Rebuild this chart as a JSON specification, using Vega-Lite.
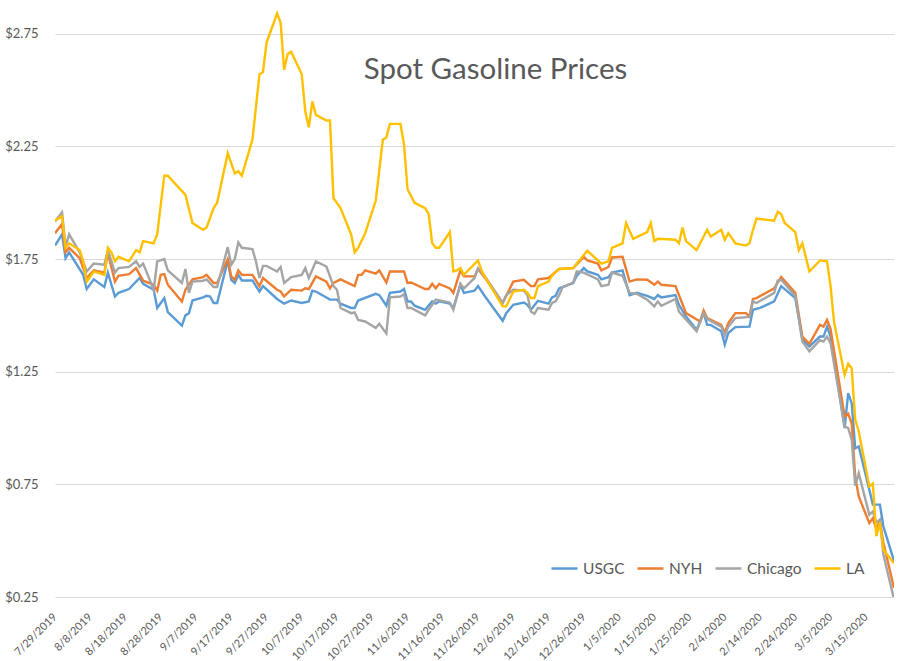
{
  "$schema": "https://vega.github.io/schema/vega-lite/v6.json",
  "autosize": "none",
  "width": 839,
  "height": 597,
  "padding": {"left": 55, "top": 0, "right": 17, "bottom": 64},
  "background": "white",
  "title": {"text": "Spot Gasoline Prices", "font": "Lato", "fontSize": 29.5, "fontWeight": "normal", "color": "#595959", "anchor": "middle", "offset": 0, "baseline": "alphabetic", "dx": 21, "dy": 108},
  "config": {
    "view": {"stroke": null},
    "axis": {"labelFont": "Lato", "labelColor": "#595959", "gridColor": "#D9D9D9", "gridWidth": 1, "ticks": false, "domain": false, "title": null},
    "legend": {"labelFont": "Lato"}
  },
  "data": {"values": [
    {"date":"2019-07-29","series":"USGC","price":1.81},{"date":"2019-07-31","series":"USGC","price":1.86},{"date":"2019-08-01","series":"USGC","price":1.754},{"date":"2019-08-02","series":"USGC","price":1.78},{"date":"2019-08-06","series":"USGC","price":1.68},{"date":"2019-08-07","series":"USGC","price":1.617},{"date":"2019-08-09","series":"USGC","price":1.66},{"date":"2019-08-12","series":"USGC","price":1.626},{"date":"2019-08-13","series":"USGC","price":1.69},{"date":"2019-08-15","series":"USGC","price":1.584},{"date":"2019-08-16","series":"USGC","price":1.6},{"date":"2019-08-19","series":"USGC","price":1.617},{"date":"2019-08-22","series":"USGC","price":1.666},{"date":"2019-08-23","series":"USGC","price":1.64},{"date":"2019-08-26","series":"USGC","price":1.614},{"date":"2019-08-27","series":"USGC","price":1.533},{"date":"2019-08-29","series":"USGC","price":1.577},{"date":"2019-08-30","series":"USGC","price":1.515},{"date":"2019-09-03","series":"USGC","price":1.455},{"date":"2019-09-04","series":"USGC","price":1.5},{"date":"2019-09-05","series":"USGC","price":1.51},{"date":"2019-09-06","series":"USGC","price":1.566},{"date":"2019-09-09","series":"USGC","price":1.58},{"date":"2019-09-10","series":"USGC","price":1.587},{"date":"2019-09-11","series":"USGC","price":1.584},{"date":"2019-09-12","series":"USGC","price":1.555},{"date":"2019-09-13","series":"USGC","price":1.555},{"date":"2019-09-16","series":"USGC","price":1.744},{"date":"2019-09-17","series":"USGC","price":1.658},{"date":"2019-09-18","series":"USGC","price":1.644},{"date":"2019-09-19","series":"USGC","price":1.68},{"date":"2019-09-20","series":"USGC","price":1.655},{"date":"2019-09-23","series":"USGC","price":1.655},{"date":"2019-09-25","series":"USGC","price":1.606},{"date":"2019-09-26","series":"USGC","price":1.63},{"date":"2019-09-30","series":"USGC","price":1.573},{"date":"2019-10-02","series":"USGC","price":1.552},{"date":"2019-10-04","series":"USGC","price":1.566},{"date":"2019-10-07","series":"USGC","price":1.555},{"date":"2019-10-09","series":"USGC","price":1.562},{"date":"2019-10-10","series":"USGC","price":1.61},{"date":"2019-10-11","series":"USGC","price":1.606},{"date":"2019-10-15","series":"USGC","price":1.57},{"date":"2019-10-17","series":"USGC","price":1.57},{"date":"2019-10-18","series":"USGC","price":1.552},{"date":"2019-10-21","series":"USGC","price":1.533},{"date":"2019-10-22","series":"USGC","price":1.533},{"date":"2019-10-23","series":"USGC","price":1.566},{"date":"2019-10-28","series":"USGC","price":1.596},{"date":"2019-10-29","series":"USGC","price":1.59},{"date":"2019-10-31","series":"USGC","price":1.543},{"date":"2019-11-01","series":"USGC","price":1.6},{"date":"2019-11-04","series":"USGC","price":1.606},{"date":"2019-11-05","series":"USGC","price":1.617},{"date":"2019-11-06","series":"USGC","price":1.562},{"date":"2019-11-07","series":"USGC","price":1.562},{"date":"2019-11-08","series":"USGC","price":1.543},{"date":"2019-11-11","series":"USGC","price":1.525},{"date":"2019-11-13","series":"USGC","price":1.562},{"date":"2019-11-14","series":"USGC","price":1.552},{"date":"2019-11-15","series":"USGC","price":1.562},{"date":"2019-11-18","series":"USGC","price":1.552},{"date":"2019-11-19","series":"USGC","price":1.533},{"date":"2019-11-21","series":"USGC","price":1.636},{"date":"2019-11-22","series":"USGC","price":1.6},{"date":"2019-11-25","series":"USGC","price":1.61},{"date":"2019-11-26","series":"USGC","price":1.63},{"date":"2019-11-28","series":"USGC","price":1.584},{"date":"2019-12-03","series":"USGC","price":1.476},{"date":"2019-12-04","series":"USGC","price":1.51},{"date":"2019-12-06","series":"USGC","price":1.547},{"date":"2019-12-09","series":"USGC","price":1.557},{"date":"2019-12-10","series":"USGC","price":1.547},{"date":"2019-12-11","series":"USGC","price":1.525},{"date":"2019-12-13","series":"USGC","price":1.565},{"date":"2019-12-16","series":"USGC","price":1.552},{"date":"2019-12-17","series":"USGC","price":1.58},{"date":"2019-12-18","series":"USGC","price":1.587},{"date":"2019-12-19","series":"USGC","price":1.62},{"date":"2019-12-23","series":"USGC","price":1.644},{"date":"2019-12-24","series":"USGC","price":1.676},{"date":"2019-12-26","series":"USGC","price":1.71},{"date":"2019-12-27","series":"USGC","price":1.695},{"date":"2019-12-30","series":"USGC","price":1.68},{"date":"2019-12-31","series":"USGC","price":1.66},{"date":"2020-01-02","series":"USGC","price":1.67},{"date":"2020-01-03","series":"USGC","price":1.69},{"date":"2020-01-06","series":"USGC","price":1.7},{"date":"2020-01-08","series":"USGC","price":1.59},{"date":"2020-01-10","series":"USGC","price":1.6},{"date":"2020-01-13","series":"USGC","price":1.587},{"date":"2020-01-15","series":"USGC","price":1.573},{"date":"2020-01-16","series":"USGC","price":1.59},{"date":"2020-01-17","series":"USGC","price":1.58},{"date":"2020-01-21","series":"USGC","price":1.59},{"date":"2020-01-22","series":"USGC","price":1.547},{"date":"2020-01-24","series":"USGC","price":1.495},{"date":"2020-01-27","series":"USGC","price":1.436},{"date":"2020-01-29","series":"USGC","price":1.51},{"date":"2020-01-30","series":"USGC","price":1.458},{"date":"2020-01-31","series":"USGC","price":1.458},{"date":"2020-02-03","series":"USGC","price":1.43},{"date":"2020-02-04","series":"USGC","price":1.37},{"date":"2020-02-05","series":"USGC","price":1.422},{"date":"2020-02-07","series":"USGC","price":1.448},{"date":"2020-02-11","series":"USGC","price":1.45},{"date":"2020-02-12","series":"USGC","price":1.525},{"date":"2020-02-14","series":"USGC","price":1.533},{"date":"2020-02-18","series":"USGC","price":1.562},{"date":"2020-02-20","series":"USGC","price":1.63},{"date":"2020-02-24","series":"USGC","price":1.577},{"date":"2020-02-26","series":"USGC","price":1.395},{"date":"2020-02-28","series":"USGC","price":1.362},{"date":"2020-03-02","series":"USGC","price":1.406},{"date":"2020-03-03","series":"USGC","price":1.406},{"date":"2020-03-04","series":"USGC","price":1.45},{"date":"2020-03-05","series":"USGC","price":1.406},{"date":"2020-03-09","series":"USGC","price":1.0},{"date":"2020-03-10","series":"USGC","price":1.155},{"date":"2020-03-11","series":"USGC","price":1.11},{"date":"2020-03-12","series":"USGC","price":0.91},{"date":"2020-03-13","series":"USGC","price":0.918},{"date":"2020-03-16","series":"USGC","price":0.726},{"date":"2020-03-17","series":"USGC","price":0.66},{"date":"2020-03-19","series":"USGC","price":0.66},{"date":"2020-03-20","series":"USGC","price":0.563},{"date":"2020-03-23","series":"USGC","price":0.41},

    {"date":"2019-07-29","series":"NYH","price":1.865},{"date":"2019-07-31","series":"NYH","price":1.906},{"date":"2019-08-01","series":"NYH","price":1.78},{"date":"2019-08-02","series":"NYH","price":1.8},{"date":"2019-08-05","series":"NYH","price":1.754},{"date":"2019-08-07","series":"NYH","price":1.666},{"date":"2019-08-09","series":"NYH","price":1.7},{"date":"2019-08-12","series":"NYH","price":1.69},{"date":"2019-08-13","series":"NYH","price":1.777},{"date":"2019-08-15","series":"NYH","price":1.65},{"date":"2019-08-16","series":"NYH","price":1.676},{"date":"2019-08-19","series":"NYH","price":1.683},{"date":"2019-08-21","series":"NYH","price":1.71},{"date":"2019-08-23","series":"NYH","price":1.654},{"date":"2019-08-26","series":"NYH","price":1.636},{"date":"2019-08-27","series":"NYH","price":1.61},{"date":"2019-08-28","series":"NYH","price":1.68},{"date":"2019-08-29","series":"NYH","price":1.683},{"date":"2019-08-30","series":"NYH","price":1.636},{"date":"2019-09-03","series":"NYH","price":1.562},{"date":"2019-09-04","series":"NYH","price":1.614},{"date":"2019-09-06","series":"NYH","price":1.66},{"date":"2019-09-09","series":"NYH","price":1.67},{"date":"2019-09-10","series":"NYH","price":1.68},{"date":"2019-09-12","series":"NYH","price":1.644},{"date":"2019-09-13","series":"NYH","price":1.644},{"date":"2019-09-16","series":"NYH","price":1.75},{"date":"2019-09-17","series":"NYH","price":1.673},{"date":"2019-09-18","series":"NYH","price":1.658},{"date":"2019-09-19","series":"NYH","price":1.7},{"date":"2019-09-20","series":"NYH","price":1.68},{"date":"2019-09-23","series":"NYH","price":1.68},{"date":"2019-09-25","series":"NYH","price":1.63},{"date":"2019-09-26","series":"NYH","price":1.666},{"date":"2019-09-30","series":"NYH","price":1.614},{"date":"2019-10-01","series":"NYH","price":1.606},{"date":"2019-10-02","series":"NYH","price":1.584},{"date":"2019-10-04","series":"NYH","price":1.614},{"date":"2019-10-07","series":"NYH","price":1.61},{"date":"2019-10-08","series":"NYH","price":1.62},{"date":"2019-10-09","series":"NYH","price":1.617},{"date":"2019-10-11","series":"NYH","price":1.673},{"date":"2019-10-14","series":"NYH","price":1.65},{"date":"2019-10-15","series":"NYH","price":1.62},{"date":"2019-10-16","series":"NYH","price":1.644},{"date":"2019-10-18","series":"NYH","price":1.66},{"date":"2019-10-22","series":"NYH","price":1.63},{"date":"2019-10-23","series":"NYH","price":1.68},{"date":"2019-10-24","series":"NYH","price":1.68},{"date":"2019-10-25","series":"NYH","price":1.7},{"date":"2019-10-28","series":"NYH","price":1.685},{"date":"2019-10-29","series":"NYH","price":1.7},{"date":"2019-10-31","series":"NYH","price":1.646},{"date":"2019-11-01","series":"NYH","price":1.695},{"date":"2019-11-05","series":"NYH","price":1.695},{"date":"2019-11-06","series":"NYH","price":1.644},{"date":"2019-11-07","series":"NYH","price":1.646},{"date":"2019-11-11","series":"NYH","price":1.617},{"date":"2019-11-12","series":"NYH","price":1.617},{"date":"2019-11-13","series":"NYH","price":1.64},{"date":"2019-11-14","series":"NYH","price":1.62},{"date":"2019-11-15","series":"NYH","price":1.64},{"date":"2019-11-18","series":"NYH","price":1.62},{"date":"2019-11-19","series":"NYH","price":1.6},{"date":"2019-11-21","series":"NYH","price":1.7},{"date":"2019-11-22","series":"NYH","price":1.673},{"date":"2019-11-25","series":"NYH","price":1.673},{"date":"2019-11-26","series":"NYH","price":1.706},{"date":"2019-11-28","series":"NYH","price":1.666},{"date":"2019-12-03","series":"NYH","price":1.555},{"date":"2019-12-06","series":"NYH","price":1.65},{"date":"2019-12-09","series":"NYH","price":1.658},{"date":"2019-12-11","series":"NYH","price":1.63},{"date":"2019-12-12","series":"NYH","price":1.63},{"date":"2019-12-13","series":"NYH","price":1.66},{"date":"2019-12-16","series":"NYH","price":1.666},{"date":"2019-12-19","series":"NYH","price":1.706},{"date":"2019-12-23","series":"NYH","price":1.71},{"date":"2019-12-26","series":"NYH","price":1.76},{"date":"2019-12-27","series":"NYH","price":1.744},{"date":"2019-12-30","series":"NYH","price":1.73},{"date":"2019-12-31","series":"NYH","price":1.7},{"date":"2020-01-02","series":"NYH","price":1.715},{"date":"2020-01-03","series":"NYH","price":1.757},{"date":"2020-01-06","series":"NYH","price":1.76},{"date":"2020-01-08","series":"NYH","price":1.65},{"date":"2020-01-10","series":"NYH","price":1.66},{"date":"2020-01-13","series":"NYH","price":1.658},{"date":"2020-01-15","series":"NYH","price":1.636},{"date":"2020-01-16","series":"NYH","price":1.65},{"date":"2020-01-17","series":"NYH","price":1.636},{"date":"2020-01-21","series":"NYH","price":1.63},{"date":"2020-01-24","series":"NYH","price":1.51},{"date":"2020-01-28","series":"NYH","price":1.473},{"date":"2020-01-29","series":"NYH","price":1.522},{"date":"2020-01-30","series":"NYH","price":1.488},{"date":"2020-02-03","series":"NYH","price":1.458},{"date":"2020-02-04","series":"NYH","price":1.422},{"date":"2020-02-05","series":"NYH","price":1.466},{"date":"2020-02-07","series":"NYH","price":1.51},{"date":"2020-02-10","series":"NYH","price":1.51},{"date":"2020-02-11","series":"NYH","price":1.495},{"date":"2020-02-12","series":"NYH","price":1.573},{"date":"2020-02-13","series":"NYH","price":1.577},{"date":"2020-02-18","series":"NYH","price":1.62},{"date":"2020-02-20","series":"NYH","price":1.67},{"date":"2020-02-24","series":"NYH","price":1.6},{"date":"2020-02-26","series":"NYH","price":1.406},{"date":"2020-02-28","series":"NYH","price":1.374},{"date":"2020-03-02","series":"NYH","price":1.458},{"date":"2020-03-03","series":"NYH","price":1.45},{"date":"2020-03-04","series":"NYH","price":1.48},{"date":"2020-03-05","series":"NYH","price":1.44},{"date":"2020-03-09","series":"NYH","price":1.05},{"date":"2020-03-10","series":"NYH","price":1.063},{"date":"2020-03-11","series":"NYH","price":1.02},{"date":"2020-03-12","series":"NYH","price":0.785},{"date":"2020-03-13","series":"NYH","price":0.696},{"date":"2020-03-16","series":"NYH","price":0.578},{"date":"2020-03-17","series":"NYH","price":0.6},{"date":"2020-03-18","series":"NYH","price":0.55},{"date":"2020-03-19","series":"NYH","price":0.586},{"date":"2020-03-20","series":"NYH","price":0.49},{"date":"2020-03-23","series":"NYH","price":0.29},

    {"date":"2019-07-29","series":"Chicago","price":1.917},{"date":"2019-07-31","series":"Chicago","price":1.957},{"date":"2019-08-01","series":"Chicago","price":1.806},{"date":"2019-08-02","series":"Chicago","price":1.86},{"date":"2019-08-05","series":"Chicago","price":1.78},{"date":"2019-08-07","series":"Chicago","price":1.695},{"date":"2019-08-09","series":"Chicago","price":1.73},{"date":"2019-08-12","series":"Chicago","price":1.725},{"date":"2019-08-13","series":"Chicago","price":1.79},{"date":"2019-08-15","series":"Chicago","price":1.69},{"date":"2019-08-16","series":"Chicago","price":1.71},{"date":"2019-08-19","series":"Chicago","price":1.715},{"date":"2019-08-21","series":"Chicago","price":1.74},{"date":"2019-08-22","series":"Chicago","price":1.715},{"date":"2019-08-23","series":"Chicago","price":1.73},{"date":"2019-08-26","series":"Chicago","price":1.614},{"date":"2019-08-27","series":"Chicago","price":1.74},{"date":"2019-08-29","series":"Chicago","price":1.75},{"date":"2019-08-30","series":"Chicago","price":1.7},{"date":"2019-09-03","series":"Chicago","price":1.644},{"date":"2019-09-04","series":"Chicago","price":1.706},{"date":"2019-09-05","series":"Chicago","price":1.6},{"date":"2019-09-06","series":"Chicago","price":1.65},{"date":"2019-09-09","series":"Chicago","price":1.654},{"date":"2019-09-10","series":"Chicago","price":1.66},{"date":"2019-09-12","series":"Chicago","price":1.626},{"date":"2019-09-13","series":"Chicago","price":1.626},{"date":"2019-09-16","series":"Chicago","price":1.803},{"date":"2019-09-17","series":"Chicago","price":1.725},{"date":"2019-09-18","series":"Chicago","price":1.75},{"date":"2019-09-19","series":"Chicago","price":1.824},{"date":"2019-09-20","series":"Chicago","price":1.8},{"date":"2019-09-23","series":"Chicago","price":1.794},{"date":"2019-09-24","series":"Chicago","price":1.74},{"date":"2019-09-25","series":"Chicago","price":1.666},{"date":"2019-09-26","series":"Chicago","price":1.72},{"date":"2019-09-27","series":"Chicago","price":1.72},{"date":"2019-09-30","series":"Chicago","price":1.695},{"date":"2019-10-01","series":"Chicago","price":1.715},{"date":"2019-10-02","series":"Chicago","price":1.644},{"date":"2019-10-04","series":"Chicago","price":1.67},{"date":"2019-10-07","series":"Chicago","price":1.68},{"date":"2019-10-08","series":"Chicago","price":1.71},{"date":"2019-10-09","series":"Chicago","price":1.666},{"date":"2019-10-11","series":"Chicago","price":1.74},{"date":"2019-10-14","series":"Chicago","price":1.717},{"date":"2019-10-16","series":"Chicago","price":1.63},{"date":"2019-10-17","series":"Chicago","price":1.614},{"date":"2019-10-18","series":"Chicago","price":1.533},{"date":"2019-10-21","series":"Chicago","price":1.51},{"date":"2019-10-22","series":"Chicago","price":1.513},{"date":"2019-10-23","series":"Chicago","price":1.48},{"date":"2019-10-25","series":"Chicago","price":1.473},{"date":"2019-10-28","series":"Chicago","price":1.444},{"date":"2019-10-29","series":"Chicago","price":1.463},{"date":"2019-10-31","series":"Chicago","price":1.42},{"date":"2019-11-01","series":"Chicago","price":1.58},{"date":"2019-11-04","series":"Chicago","price":1.584},{"date":"2019-11-05","series":"Chicago","price":1.594},{"date":"2019-11-06","series":"Chicago","price":1.533},{"date":"2019-11-07","series":"Chicago","price":1.533},{"date":"2019-11-11","series":"Chicago","price":1.5},{"date":"2019-11-12","series":"Chicago","price":1.525},{"date":"2019-11-13","series":"Chicago","price":1.547},{"date":"2019-11-14","series":"Chicago","price":1.57},{"date":"2019-11-18","series":"Chicago","price":1.557},{"date":"2019-11-19","series":"Chicago","price":1.525},{"date":"2019-11-21","series":"Chicago","price":1.64},{"date":"2019-11-22","series":"Chicago","price":1.62},{"date":"2019-11-25","series":"Chicago","price":1.666},{"date":"2019-11-26","series":"Chicago","price":1.71},{"date":"2019-11-28","series":"Chicago","price":1.673},{"date":"2019-12-03","series":"Chicago","price":1.555},{"date":"2019-12-04","series":"Chicago","price":1.59},{"date":"2019-12-06","series":"Chicago","price":1.614},{"date":"2019-12-09","series":"Chicago","price":1.61},{"date":"2019-12-10","series":"Chicago","price":1.59},{"date":"2019-12-11","series":"Chicago","price":1.517},{"date":"2019-12-12","series":"Chicago","price":1.507},{"date":"2019-12-13","series":"Chicago","price":1.533},{"date":"2019-12-16","series":"Chicago","price":1.525},{"date":"2019-12-17","series":"Chicago","price":1.555},{"date":"2019-12-18","series":"Chicago","price":1.562},{"date":"2019-12-19","series":"Chicago","price":1.59},{"date":"2019-12-20","series":"Chicago","price":1.625},{"date":"2019-12-23","series":"Chicago","price":1.646},{"date":"2019-12-24","series":"Chicago","price":1.695},{"date":"2019-12-26","series":"Chicago","price":1.69},{"date":"2019-12-30","series":"Chicago","price":1.66},{"date":"2019-12-31","series":"Chicago","price":1.63},{"date":"2020-01-02","series":"Chicago","price":1.636},{"date":"2020-01-03","series":"Chicago","price":1.69},{"date":"2020-01-06","series":"Chicago","price":1.676},{"date":"2020-01-08","series":"Chicago","price":1.6},{"date":"2020-01-10","series":"Chicago","price":1.596},{"date":"2020-01-13","series":"Chicago","price":1.57},{"date":"2020-01-15","series":"Chicago","price":1.54},{"date":"2020-01-16","series":"Chicago","price":1.562},{"date":"2020-01-17","series":"Chicago","price":1.543},{"date":"2020-01-21","series":"Chicago","price":1.573},{"date":"2020-01-22","series":"Chicago","price":1.517},{"date":"2020-01-27","series":"Chicago","price":1.43},{"date":"2020-01-29","series":"Chicago","price":1.51},{"date":"2020-01-30","series":"Chicago","price":1.484},{"date":"2020-02-03","series":"Chicago","price":1.45},{"date":"2020-02-04","series":"Chicago","price":1.41},{"date":"2020-02-05","series":"Chicago","price":1.45},{"date":"2020-02-07","series":"Chicago","price":1.488},{"date":"2020-02-11","series":"Chicago","price":1.493},{"date":"2020-02-12","series":"Chicago","price":1.562},{"date":"2020-02-13","series":"Chicago","price":1.555},{"date":"2020-02-18","series":"Chicago","price":1.6},{"date":"2020-02-19","series":"Chicago","price":1.655},{"date":"2020-02-20","series":"Chicago","price":1.658},{"date":"2020-02-24","series":"Chicago","price":1.587},{"date":"2020-02-26","series":"Chicago","price":1.384},{"date":"2020-02-28","series":"Chicago","price":1.34},{"date":"2020-03-02","series":"Chicago","price":1.39},{"date":"2020-03-03","series":"Chicago","price":1.384},{"date":"2020-03-04","series":"Chicago","price":1.406},{"date":"2020-03-05","series":"Chicago","price":1.377},{"date":"2020-03-09","series":"Chicago","price":1.007},{"date":"2020-03-10","series":"Chicago","price":1.0},{"date":"2020-03-11","series":"Chicago","price":0.95},{"date":"2020-03-12","series":"Chicago","price":0.744},{"date":"2020-03-13","series":"Chicago","price":0.8},{"date":"2020-03-16","series":"Chicago","price":0.615},{"date":"2020-03-17","series":"Chicago","price":0.63},{"date":"2020-03-18","series":"Chicago","price":0.58},{"date":"2020-03-19","series":"Chicago","price":0.593},{"date":"2020-03-20","series":"Chicago","price":0.437},{"date":"2020-03-23","series":"Chicago","price":0.24},

    {"date":"2019-07-29","series":"LA","price":1.92},{"date":"2019-07-31","series":"LA","price":1.94},{"date":"2019-08-01","series":"LA","price":1.8},{"date":"2019-08-02","series":"LA","price":1.82},{"date":"2019-08-05","series":"LA","price":1.79},{"date":"2019-08-06","series":"LA","price":1.74},{"date":"2019-08-07","series":"LA","price":1.65},{"date":"2019-08-09","series":"LA","price":1.695},{"date":"2019-08-12","series":"LA","price":1.68},{"date":"2019-08-13","series":"LA","price":1.8},{"date":"2019-08-14","series":"LA","price":1.78},{"date":"2019-08-15","series":"LA","price":1.74},{"date":"2019-08-16","series":"LA","price":1.76},{"date":"2019-08-19","series":"LA","price":1.74},{"date":"2019-08-21","series":"LA","price":1.79},{"date":"2019-08-22","series":"LA","price":1.78},{"date":"2019-08-23","series":"LA","price":1.83},{"date":"2019-08-26","series":"LA","price":1.82},{"date":"2019-08-27","series":"LA","price":1.86},{"date":"2019-08-29","series":"LA","price":2.12},{"date":"2019-08-30","series":"LA","price":2.12},{"date":"2019-09-04","series":"LA","price":2.035},{"date":"2019-09-06","series":"LA","price":1.91},{"date":"2019-09-09","series":"LA","price":1.88},{"date":"2019-09-10","series":"LA","price":1.89},{"date":"2019-09-12","series":"LA","price":1.976},{"date":"2019-09-13","series":"LA","price":2.0},{"date":"2019-09-16","series":"LA","price":2.22},{"date":"2019-09-18","series":"LA","price":2.13},{"date":"2019-09-19","series":"LA","price":2.14},{"date":"2019-09-20","series":"LA","price":2.12},{"date":"2019-09-23","series":"LA","price":2.28},{"date":"2019-09-25","series":"LA","price":2.57},{"date":"2019-09-26","series":"LA","price":2.58},{"date":"2019-09-27","series":"LA","price":2.71},{"date":"2019-09-30","series":"LA","price":2.84},{"date":"2019-10-01","series":"LA","price":2.8},{"date":"2019-10-02","series":"LA","price":2.59},{"date":"2019-10-03","series":"LA","price":2.66},{"date":"2019-10-04","series":"LA","price":2.67},{"date":"2019-10-07","series":"LA","price":2.57},{"date":"2019-10-08","series":"LA","price":2.405},{"date":"2019-10-09","series":"LA","price":2.335},{"date":"2019-10-10","series":"LA","price":2.45},{"date":"2019-10-11","series":"LA","price":2.39},{"date":"2019-10-14","series":"LA","price":2.365},{"date":"2019-10-15","series":"LA","price":2.365},{"date":"2019-10-16","series":"LA","price":2.02},{"date":"2019-10-18","series":"LA","price":1.976},{"date":"2019-10-21","series":"LA","price":1.86},{"date":"2019-10-22","series":"LA","price":1.78},{"date":"2019-10-23","series":"LA","price":1.8},{"date":"2019-10-25","series":"LA","price":1.865},{"date":"2019-10-28","series":"LA","price":2.01},{"date":"2019-10-30","series":"LA","price":2.28},{"date":"2019-10-31","series":"LA","price":2.29},{"date":"2019-11-01","series":"LA","price":2.35},{"date":"2019-11-04","series":"LA","price":2.35},{"date":"2019-11-05","series":"LA","price":2.26},{"date":"2019-11-06","series":"LA","price":2.06},{"date":"2019-11-08","series":"LA","price":2.0},{"date":"2019-11-11","series":"LA","price":1.976},{"date":"2019-11-12","series":"LA","price":1.95},{"date":"2019-11-13","series":"LA","price":1.82},{"date":"2019-11-14","series":"LA","price":1.8},{"date":"2019-11-15","series":"LA","price":1.8},{"date":"2019-11-18","series":"LA","price":1.87},{"date":"2019-11-19","series":"LA","price":1.695},{"date":"2019-11-20","series":"LA","price":1.7},{"date":"2019-11-21","series":"LA","price":1.71},{"date":"2019-11-22","series":"LA","price":1.68},{"date":"2019-11-26","series":"LA","price":1.744},{"date":"2019-11-27","series":"LA","price":1.7},{"date":"2019-11-28","series":"LA","price":1.67},{"date":"2019-12-03","series":"LA","price":1.54},{"date":"2019-12-04","series":"LA","price":1.54},{"date":"2019-12-06","series":"LA","price":1.606},{"date":"2019-12-09","series":"LA","price":1.614},{"date":"2019-12-10","series":"LA","price":1.6},{"date":"2019-12-11","series":"LA","price":1.577},{"date":"2019-12-12","series":"LA","price":1.577},{"date":"2019-12-13","series":"LA","price":1.63},{"date":"2019-12-16","series":"LA","price":1.65},{"date":"2019-12-17","series":"LA","price":1.676},{"date":"2019-12-19","series":"LA","price":1.706},{"date":"2019-12-23","series":"LA","price":1.71},{"date":"2019-12-27","series":"LA","price":1.787},{"date":"2019-12-31","series":"LA","price":1.73},{"date":"2020-01-02","series":"LA","price":1.74},{"date":"2020-01-03","series":"LA","price":1.8},{"date":"2020-01-06","series":"LA","price":1.82},{"date":"2020-01-07","series":"LA","price":1.91},{"date":"2020-01-09","series":"LA","price":1.84},{"date":"2020-01-13","series":"LA","price":1.87},{"date":"2020-01-14","series":"LA","price":1.91},{"date":"2020-01-15","series":"LA","price":1.83},{"date":"2020-01-16","series":"LA","price":1.84},{"date":"2020-01-21","series":"LA","price":1.836},{"date":"2020-01-22","series":"LA","price":1.82},{"date":"2020-01-23","series":"LA","price":1.89},{"date":"2020-01-24","series":"LA","price":1.83},{"date":"2020-01-27","series":"LA","price":1.79},{"date":"2020-01-30","series":"LA","price":1.88},{"date":"2020-01-31","series":"LA","price":1.85},{"date":"2020-02-03","series":"LA","price":1.88},{"date":"2020-02-04","series":"LA","price":1.836},{"date":"2020-02-05","series":"LA","price":1.865},{"date":"2020-02-07","series":"LA","price":1.82},{"date":"2020-02-10","series":"LA","price":1.81},{"date":"2020-02-11","series":"LA","price":1.82},{"date":"2020-02-12","series":"LA","price":1.88},{"date":"2020-02-13","series":"LA","price":1.93},{"date":"2020-02-18","series":"LA","price":1.92},{"date":"2020-02-19","series":"LA","price":1.96},{"date":"2020-02-20","series":"LA","price":1.95},{"date":"2020-02-21","series":"LA","price":1.91},{"date":"2020-02-24","series":"LA","price":1.87},{"date":"2020-02-25","series":"LA","price":1.79},{"date":"2020-02-26","series":"LA","price":1.82},{"date":"2020-02-28","series":"LA","price":1.695},{"date":"2020-03-02","series":"LA","price":1.744},{"date":"2020-03-04","series":"LA","price":1.74},{"date":"2020-03-05","series":"LA","price":1.63},{"date":"2020-03-06","series":"LA","price":1.47},{"date":"2020-03-09","series":"LA","price":1.236},{"date":"2020-03-10","series":"LA","price":1.285},{"date":"2020-03-11","series":"LA","price":1.266},{"date":"2020-03-12","series":"LA","price":1.037},{"date":"2020-03-13","series":"LA","price":0.985},{"date":"2020-03-16","series":"LA","price":0.741},{"date":"2020-03-17","series":"LA","price":0.753},{"date":"2020-03-18","series":"LA","price":0.52},{"date":"2020-03-19","series":"LA","price":0.58},{"date":"2020-03-20","series":"LA","price":0.46},{"date":"2020-03-23","series":"LA","price":0.4}
  ]},
  "mark": {"type": "line", "strokeWidth": 2.4, "clip": true},
  "encoding": {
    "x": {
      "field": "date", "type": "temporal",
      "scale": {"type": "utc", "domain": [{"year": 2019, "month": 7, "date": 29, "utc": true}, {"year": 2020, "month": 3, "date": 23, "utc": true}]},
      "axis": {
        "values": [
          {"year": 2019, "month": 7, "date": 29, "utc": true},
          {"year": 2019, "month": 8, "date": 8, "utc": true},
          {"year": 2019, "month": 8, "date": 18, "utc": true},
          {"year": 2019, "month": 8, "date": 28, "utc": true},
          {"year": 2019, "month": 9, "date": 7, "utc": true},
          {"year": 2019, "month": 9, "date": 17, "utc": true},
          {"year": 2019, "month": 9, "date": 27, "utc": true},
          {"year": 2019, "month": 10, "date": 7, "utc": true},
          {"year": 2019, "month": 10, "date": 17, "utc": true},
          {"year": 2019, "month": 10, "date": 27, "utc": true},
          {"year": 2019, "month": 11, "date": 6, "utc": true},
          {"year": 2019, "month": 11, "date": 16, "utc": true},
          {"year": 2019, "month": 11, "date": 26, "utc": true},
          {"year": 2019, "month": 12, "date": 6, "utc": true},
          {"year": 2019, "month": 12, "date": 16, "utc": true},
          {"year": 2019, "month": 12, "date": 26, "utc": true},
          {"year": 2020, "month": 1, "date": 5, "utc": true},
          {"year": 2020, "month": 1, "date": 15, "utc": true},
          {"year": 2020, "month": 1, "date": 25, "utc": true},
          {"year": 2020, "month": 2, "date": 4, "utc": true},
          {"year": 2020, "month": 2, "date": 14, "utc": true},
          {"year": 2020, "month": 2, "date": 24, "utc": true},
          {"year": 2020, "month": 3, "date": 5, "utc": true},
          {"year": 2020, "month": 3, "date": 15, "utc": true}
        ],
        "format": "%-m/%-d/%Y", "labelAngle": -45, "labelAlign": "right", "labelBaseline": "middle",
        "labelFontSize": 11, "labelPadding": 18, "grid": false, "labelOverlap": false, "labelBound": false, "labelFlush": false
      }
    },
    "y": {
      "field": "price", "type": "quantitative",
      "scale": {"domain": [0.25, 2.9], "nice": false, "zero": false},
      "axis": {"values": [0.25, 0.75, 1.25, 1.75, 2.25, 2.75], "format": "$.2f", "labelFontSize": 13, "labelPadding": 17, "grid": true}
    },
    "color": {
      "field": "series", "type": "nominal",
      "scale": {"domain": ["USGC", "NYH", "Chicago", "LA"], "range": ["#5B9BD5", "#ED7D31", "#A5A5A5", "#FFC000"]},
      "legend": {"orient": "none", "legendX": 495, "legendY": 554, "direction": "horizontal", "title": null, "symbolType": "stroke", "symbolSize": 676, "symbolStrokeWidth": 2.5, "labelFontSize": 15.5, "labelColor": "#595959", "labelOffset": 4, "columnPadding": 7, "padding": 0}
    },
    "order": {"field": "date", "type": "temporal"}
  }
}
